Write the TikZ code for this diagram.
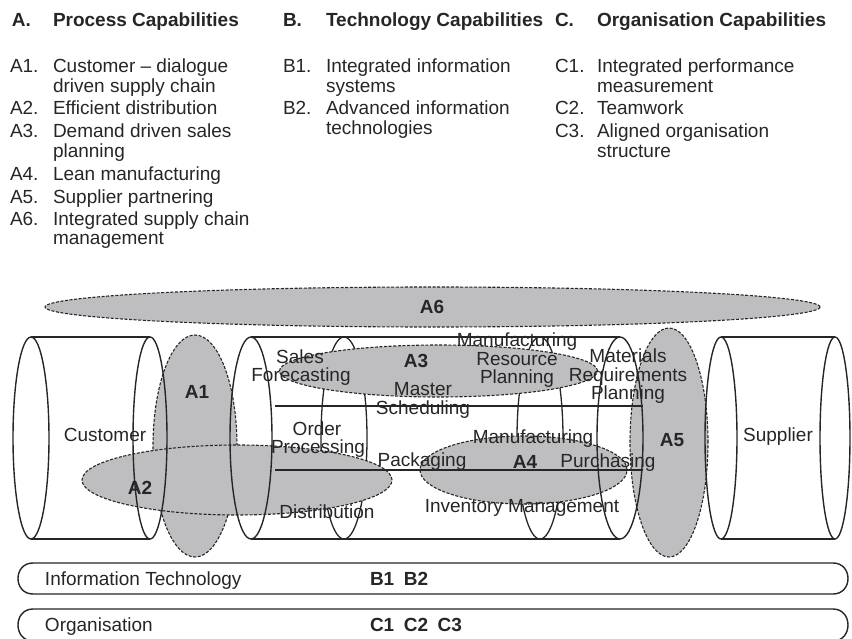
\documentclass[tikz,border=0pt]{standalone}
\usepackage{fontspec}
\setmainfont{Liberation Sans}
\usetikzlibrary{shapes.geometric}
\definecolor{capgray}{RGB}{190,190,193}
\definecolor{ink}{RGB}{38,38,38}
\begin{document}
\begin{tikzpicture}[x=1pt,y=-1pt,
  txt/.style={font=\fontsize{19}{19}\selectfont, text=ink, inner sep=0pt, outer sep=0pt},
  hd/.style={txt, font=\fontsize{19}{19}\selectfont\bfseries, anchor=base west},
  li/.style={txt, anchor=base west},
  lbl/.style={txt, anchor=base},
  blbl/.style={txt, anchor=base, font=\fontsize{19}{19}\selectfont\bfseries},
  capell/.style={ellipse, inner sep=0pt, outer sep=0pt, fill=capgray, draw=ink,
     line width=1.1pt, dash pattern=on 3pt off 1.6pt},
  tube/.style={draw=ink, line width=1.4pt},
  inner/.style={draw=ink, line width=1.3pt},
  bar/.style={draw=ink, line width=1.4pt}
]
\useasboundingbox (0,0) rectangle (852,639);

% ---------- headings ----------
\node[hd] (hA) at (12,27) {A.};
\node[hd] (hAt) at (53,27) {Process Capabilities};
\node[hd] (hB) at (283,27) {B.};
\node[hd] (hBt) at (326,27) {Technology Capabilities};
\node[hd] (hC) at (555,27) {C.};
\node[hd] (hCt) at (597,27) {Organisation Capabilities};

% ---------- list A ----------
\node[li] (a1n) at (10,72.7) {A1.};
\node[li] (a1t) at (53,72.7) {Customer – dialogue};
\node[li] (a1u) at (53,92.2) {driven supply chain};
\node[li] (a2n) at (10,114.7) {A2.};
\node[li] (a2t) at (53,114.7) {Efficient distribution};
\node[li] (a3n) at (10,137.7) {A3.};
\node[li] (a3t) at (53,137.7) {Demand driven sales};
\node[li] (a3u) at (53,157.2) {planning};
\node[li] (a4n) at (10,180.2) {A4.};
\node[li] (a4t) at (53,180.2) {Lean manufacturing};
\node[li] (a5n) at (10,203.2) {A5.};
\node[li] (a5t) at (53,203.2) {Supplier partnering};
\node[li] (a6n) at (10,225.7) {A6.};
\node[li] (a6t) at (53,225.7) {Integrated supply chain};
\node[li] (a6u) at (53,244.7) {management};

% ---------- list B ----------
\node[li] (b1n) at (283,72.7) {B1.};
\node[li] (b1t) at (326,72.7) {Integrated information};
\node[li] (b1u) at (326,92.2) {systems};
\node[li] (b2n) at (283,114.7) {B2.};
\node[li] (b2t) at (326,114.7) {Advanced information};
\node[li] (b2u) at (326,134.2) {technologies};

% ---------- list C ----------
\node[li] (c1n) at (555,72.7) {C1.};
\node[li] (c1t) at (597,72.7) {Integrated performance};
\node[li] (c1u) at (597,92.2) {measurement};
\node[li] (c2n) at (555,114.7) {C2.};
\node[li] (c2t) at (597,114.7) {Teamwork};
\node[li] (c3n) at (555,137.7) {C3.};
\node[li] (c3t) at (597,137.7) {Aligned organisation};
\node[li] (c3u) at (597,157.2) {structure};

% ---------- inner ellipses of the middle tube ----------
\draw[inner] (344,438) ellipse [x radius=23, y radius=101];
\draw[inner] (540,438) ellipse [x radius=23, y radius=101];

% ---------- capability ellipses ----------
\node[capell, minimum width=775, minimum height=40] (A6) at (432.5,307) {};
\node[capell, minimum width=84, minimum height=222] (A1) at (195,446) {};
\node[capell, minimum width=310, minimum height=70] (A2) at (237,480) {};
\node[capell, minimum width=318, minimum height=52] (A3) at (438.5,371) {};
\node[capell, minimum width=207, minimum height=68] (A4) at (523.5,470) {};
\node[capell, minimum width=78, minimum height=229] (A5) at (669,442.5) {};

% ---------- tubes ----------
% customer
\draw[tube] (31,438) ellipse [x radius=18, y radius=101];
\draw[tube] (150,438) ellipse [x radius=17, y radius=101];
\draw[tube] (31,337) -- (150,337) (31,539) -- (150,539);
% middle
\draw[tube] (251,438) ellipse [x radius=21, y radius=101];
\draw[tube] (620,438) ellipse [x radius=23, y radius=101];
\draw[tube] (251,337) -- (620,337) (251,539) -- (620,539);
\draw[tube] (275,406) -- (643,406) (275,470) -- (643,470);
% supplier
\draw[tube] (721,438) ellipse [x radius=16, y radius=101];
\draw[tube] (835,438) ellipse [x radius=15, y radius=101];
\draw[tube] (721,337) -- (835,337) (721,539) -- (835,539);

% ---------- bars ----------
\draw[bar] (33,563) -- (833,563) .. controls (853,563) and (853,594) .. (833,594)
   -- (33,594) .. controls (13,594) and (13,563) .. (33,563) -- cycle;
\draw[bar] (33,609) -- (833,609) .. controls (853,609) and (853,641) .. (833,641)
   -- (33,641) .. controls (13,641) and (13,609) .. (33,609) -- cycle;

% ---------- diagram labels ----------
\node[lbl] (cust) at (105,441.7) {Customer};
\node[lbl] (supp) at (778,441.7) {Supplier};
\node[lbl] (sales) at (300,363.7) {Sales};
\node[lbl] (fore) at (301,381.7) {Forecasting};
\node[lbl] (mast) at (423,395.7) {Master};
\node[lbl] (sched) at (423,414.7) {Scheduling};
\node[lbl] (mrp1) at (517,346.7) {Manufacturing};
\node[lbl] (mrp2) at (517,365.7) {Resource};
\node[lbl] (mrp3) at (517,383.7) {Planning};
\node[lbl] (mat1) at (628,362.7) {Materials};
\node[lbl] (mat2) at (628,381.7) {Requirements};
\node[lbl] (mat3) at (628,399.7) {Planning};
\node[lbl] (ord1) at (317,435.7) {Order};
\node[lbl] (ord2) at (318,453.7) {Processing};
\node[lbl] (manu) at (533,443.7) {Manufacturing};
\node[lbl] (pack) at (422,466.7) {Packaging};
\node[lbl] (purch) at (608,467.7) {Purchasing};
\node[lbl] (dist) at (327,518.7) {Distribution};
\node[lbl] (inv) at (522,512.7) {Inventory Management};

\node[blbl] (lA1) at (197,398.7) {A1};
\node[blbl] (lA2) at (140,494.7) {A2};
\node[blbl] (lA3) at (416,367.7) {A3};
\node[blbl] (lA4) at (525,468.7) {A4};
\node[blbl] (lA5) at (672,446.7) {A5};
\node[blbl] (lA6) at (432,313.7) {A6};

% ---------- bar labels ----------
\node[li] (it) at (45,585.7) {Information Technology};
\node[hd] (itb) at (370,585.7) {B1\hspace{0.5em}B2};
\node[li] (org) at (45,631.7) {Organisation};
\node[hd] (orgc) at (370,631.7) {C1\hspace{0.5em}C2\hspace{0.5em}C3};
\end{tikzpicture}
\end{document}
